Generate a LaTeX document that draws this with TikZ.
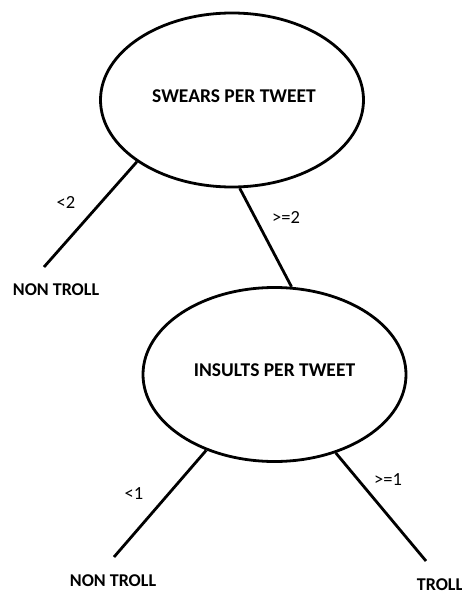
\documentclass[tikz,border=0pt]{standalone}
\usepackage{fontspec}
\setmainfont{Carlito}
\usetikzlibrary{shapes.geometric}
\begin{document}
\begin{tikzpicture}[x=1pt,y=-1pt,
  decision/.style={draw, ellipse, line width=2.8pt, minimum width=263pt,
    minimum height=174pt, inner sep=0pt},
  qtext/.style={font=\fontsize{19.5}{23}\selectfont\bfseries, inner sep=0pt},
  leaf/.style={font=\fontsize{18}{22}\selectfont\bfseries, inner sep=0pt},
  cond/.style={font=\fontsize{18.5}{22}\selectfont, inner sep=0pt},
  branch/.style={line width=2.8pt}]
\useasboundingbox (0,0) rectangle (462,594);

% decision nodes
\node[decision] (s1) at (232,100) {};
\node[qtext] (q1) at (234,96) {SWEARS PER TWEET};
\node[decision] (s2) at (274.5,374.5) {};
\node[qtext] (q2) at (274.5,370) {INSULTS PER TWEET};

% leaves
\node[leaf] (n1) at (56,290) {NON TROLL};
\node[leaf] (n2) at (113,581) {NON TROLL};
\node[leaf] (t1) at (440,585) {TROLL};

% branch ends
\coordinate (e1) at (44,267);
\coordinate (e3) at (114,557);
\coordinate (e4) at (426,561);

% branches
\draw[branch] (s1.213) -- (e1);
\draw[branch] (s1.275) -- (s2.79);
\draw[branch] (s2.228) -- (e3);
\draw[branch] (s2.308) -- (e4);

% branch conditions
\node[cond] (c1) at (66,202) {<2};
\node[cond] (c2) at (286,217) {>=2};
\node[cond] (c3) at (134,494) {<1};
\node[cond] (c4) at (388,480) {>=1};
\end{tikzpicture}
\end{document}
